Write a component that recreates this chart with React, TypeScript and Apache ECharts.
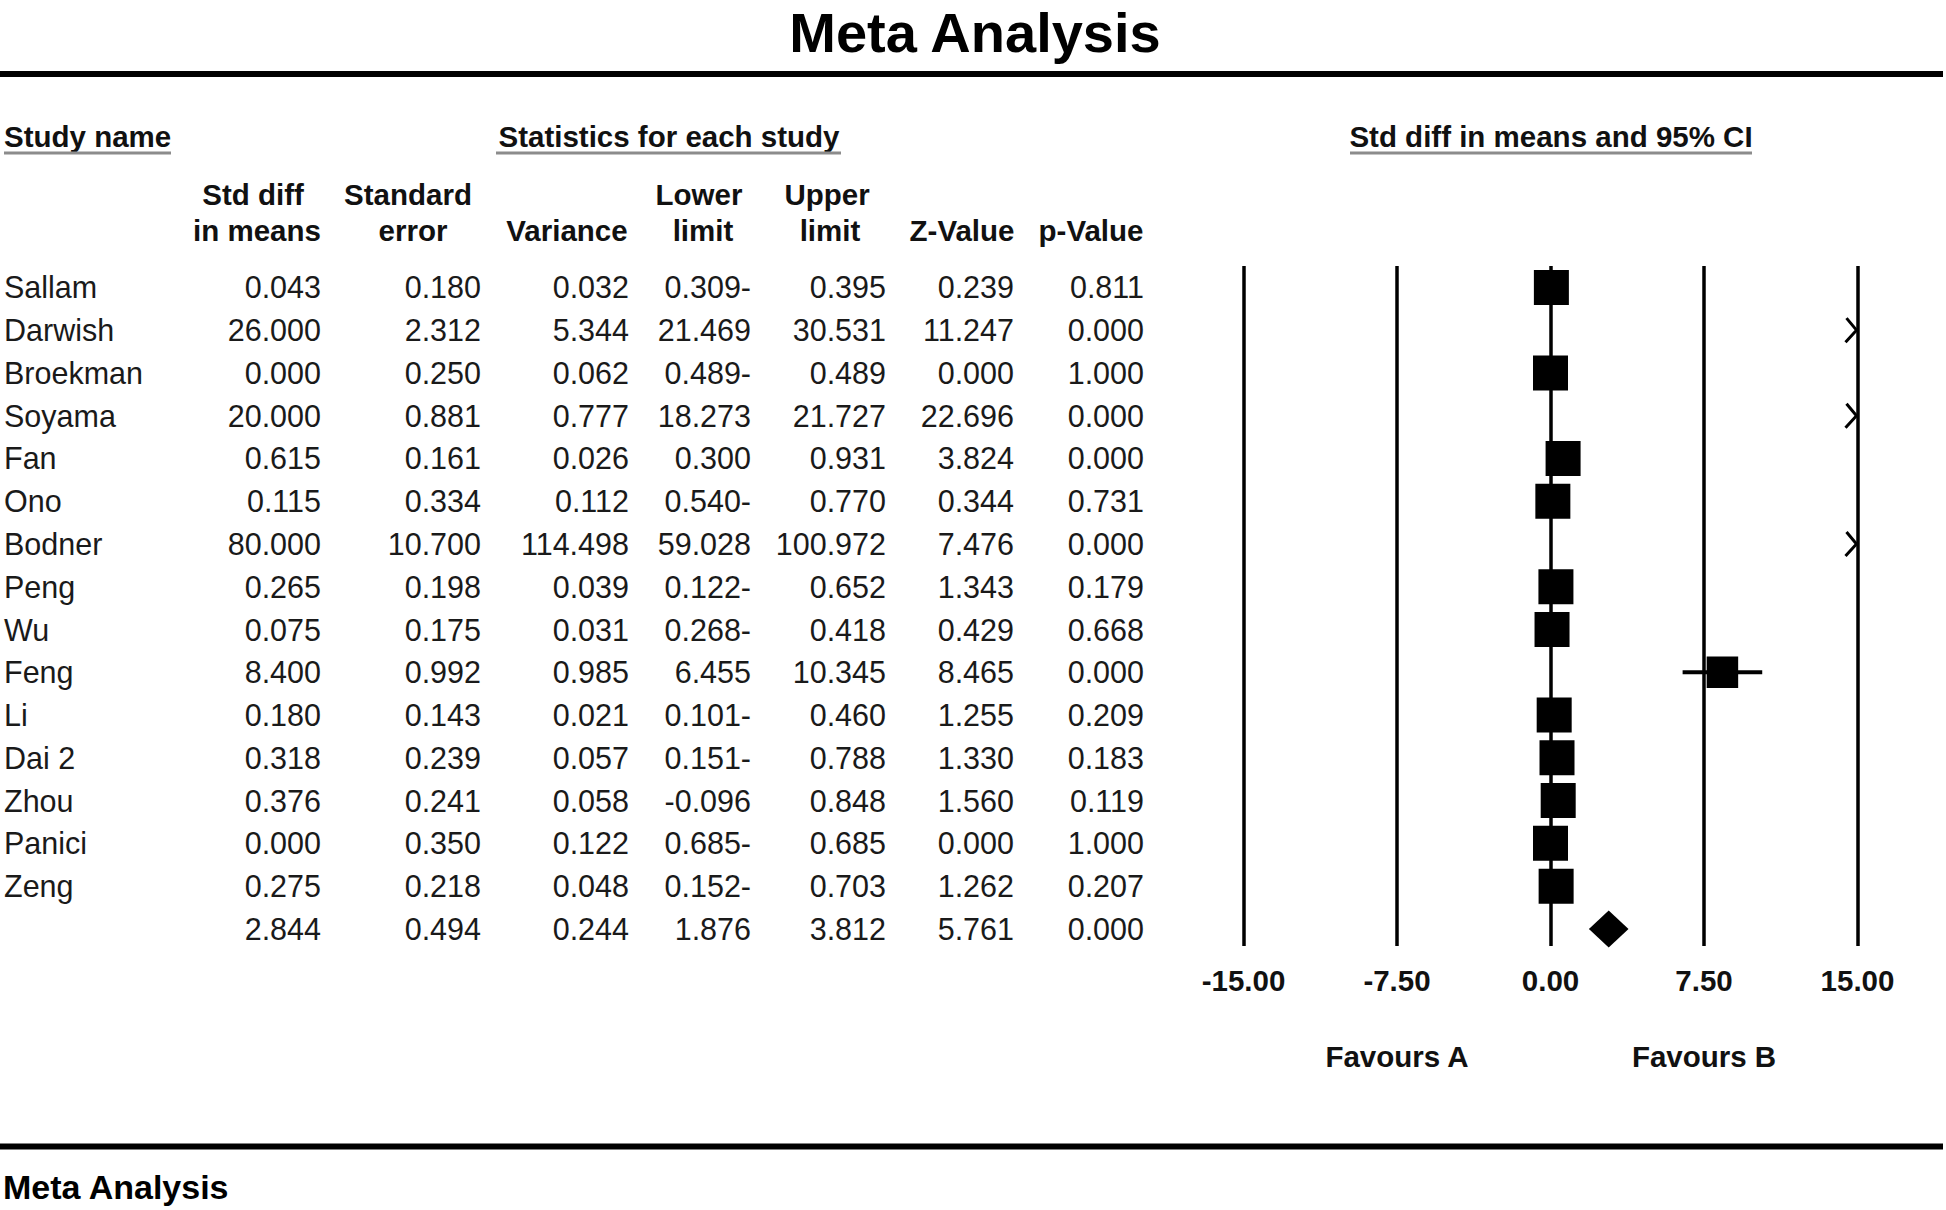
import React, { useEffect, useRef } from "react";
import * as echarts from "echarts";

// ---------- data ----------
const studyNames = ["Sallam", "Darwish", "Broekman", "Soyama", "Fan", "Ono", "Bodner", "Peng", "Wu", "Feng", "Li", "Dai 2", "Zhou", "Panici", "Zeng"];
const stdDiff = [0.043, 26.0, 0.0, 20.0, 0.615, 0.115, 80.0, 0.265, 0.075, 8.4, 0.18, 0.318, 0.376, 0.0, 0.275];
const stdErr = [0.18, 2.312, 0.25, 0.881, 0.161, 0.334, 10.7, 0.198, 0.175, 0.992, 0.143, 0.239, 0.241, 0.35, 0.218];
const variance = [0.032, 5.344, 0.062, 0.777, 0.026, 0.112, 114.498, 0.039, 0.031, 0.985, 0.021, 0.057, 0.058, 0.122, 0.048];
const lowerLimit = [-0.309, 21.469, -0.489, 18.273, 0.3, -0.54, 59.028, -0.122, -0.268, 6.455, -0.101, -0.151, -0.096, -0.685, -0.152];
const lowerLimitLabels = ["0.309-", "21.469", "0.489-", "18.273", "0.300", "0.540-", "59.028", "0.122-", "0.268-", "6.455", "0.101-", "0.151-", "-0.096", "0.685-", "0.152-"];
const upperLimit = [0.395, 30.531, 0.489, 21.727, 0.931, 0.77, 100.972, 0.652, 0.418, 10.345, 0.46, 0.788, 0.848, 0.685, 0.703];
const zValue = [0.239, 11.247, 0.0, 22.696, 3.824, 0.344, 7.476, 1.343, 0.429, 8.465, 1.255, 1.33, 1.56, 0.0, 1.262];
const pValue = [0.811, 0.0, 1.0, 0.0, 0.0, 0.731, 0.0, 0.179, 0.668, 0.0, 0.209, 0.183, 0.119, 1.0, 0.207];
// relative box size
const boxWeight = [1, 1, 1, 1, 1, 1, 1, 1, 1, 0.9, 1, 1, 1, 1, 1];

// pooled (summary) row
const summaryStdDiff = 2.844;
const summaryStdErr = 0.494;
const summaryVariance = 0.244;
const summaryLower = 1.876;
const summaryUpper = 3.812;
const summaryZ = 5.761;
const summaryP = 0.0;

const axisTicks = [-15, 15, 7.5]; // min, max, interval
const favourLabels = ["Favours A", "Favours B"];
const favourAt = [-7.5, 7.5];

const columnHeaders = [
  ["Std diff", "in means"],
  ["Standard", "error"],
  ["", "Variance"],
  ["Lower", "limit"],
  ["Upper", "limit"],
  ["", "Z-Value"],
  ["", "p-Value"],
];

// ---------- layout ----------
const W = 1946;
const H = 1210;
const FONT = '"Liberation Sans", Arial, Helvetica, sans-serif';
const ROW_TOP = 266;
const ROW_H = 680;
const FOREST_LEFT = 1243.5;
const FOREST_W = 614;
const NAME_X = 4;
const COL_RIGHT = [321, 481, 629, 751, 886, 1014, 1144];
const HEAD_CENTER1 = [253, 408, 567, 699, 827, 962, 1091];
const HEAD_CENTER2 = [257, 413, 567, 703, 830, 962, 1091];
const BOX = 35;

const f3 = (v: number) => v.toFixed(3);

function txt(text: string, x: number, y: number, size: number, weight: string, align: string, fill = "#111") {
  return {
    type: "text",
    x,
    y,
    silent: true,
    style: { text, fontSize: size, fontWeight: weight, fontFamily: FONT, fill, align, verticalAlign: "middle" },
  };
}

export default function App() {
  const ref = useRef<HTMLDivElement>(null);

  useEffect(() => {
    if (!ref.current) return;
    const chart = echarts.init(ref.current, undefined, { renderer: "svg" });

    const tableRows = studyNames.map((name, i) => ({
      name,
      cells: [f3(stdDiff[i]), f3(stdErr[i]), f3(variance[i]), lowerLimitLabels[i], f3(upperLimit[i]), f3(zValue[i]), f3(pValue[i])],
    }));
    tableRows.push({
      name: "",
      cells: [f3(summaryStdDiff), f3(summaryStdErr), f3(summaryVariance), f3(summaryLower), f3(summaryUpper), f3(summaryZ), f3(summaryP)],
    });

    const forestData = studyNames.map((_, i) => [stdDiff[i], lowerLimit[i], upperLimit[i], i, boxWeight[i]]);
    const summaryRow = studyNames.length;

    const graphic: any[] = [
      txt("Meta Analysis", 975, 32.5, 56, "bold", "center", "#000"),
      { type: "line", silent: true, shape: { x1: 0, y1: 74, x2: 1943, y2: 74 }, style: { stroke: "#000", lineWidth: 6 } },
      txt("Study name", 4, 136, 29.5, "bold", "left"),
      txt("Statistics for each study", 669, 136, 29.5, "bold", "center"),
      txt("Std diff in means and 95% CI", 1551, 136, 29.5, "bold", "center"),
      { type: "line", silent: true, shape: { x1: 4, y1: 153, x2: 171, y2: 153 }, style: { stroke: "#8c8c8c", lineWidth: 3 } },
      { type: "line", silent: true, shape: { x1: 496, y1: 153, x2: 841, y2: 153 }, style: { stroke: "#8c8c8c", lineWidth: 3 } },
      { type: "line", silent: true, shape: { x1: 1350, y1: 153, x2: 1752, y2: 153 }, style: { stroke: "#8c8c8c", lineWidth: 3 } },
      { type: "line", silent: true, shape: { x1: 0, y1: 1146.5, x2: 1943, y2: 1146.5 }, style: { stroke: "#000", lineWidth: 6 } },
      txt("Meta Analysis", 3, 1187, 34, "bold", "left", "#000"),
    ];
    columnHeaders.forEach((h, c) => {
      if (h[0]) graphic.push(txt(h[0], HEAD_CENTER1[c], 194, 29.5, "bold", "center"));
      if (h[1]) graphic.push(txt(h[1], HEAD_CENTER2[c], 230, 29.5, "bold", "center"));
    });

    const option: any = {
      animation: false,
      backgroundColor: "#ffffff",
      grid: [
        { left: 0, top: ROW_TOP, width: W, height: ROW_H },
        { left: FOREST_LEFT, top: ROW_TOP, width: FOREST_W, height: ROW_H },
      ],
      xAxis: [
        { gridIndex: 0, type: "value", min: 0, max: W, show: false },
        {
          gridIndex: 1,
          type: "value",
          min: axisTicks[0],
          max: axisTicks[1],
          interval: axisTicks[2],
          axisLine: { show: false },
          axisTick: { show: false },
          splitLine: { show: true, lineStyle: { color: "#000", width: 3.5 } },
          axisLabel: {
            formatter: (v: number) => v.toFixed(2),
            fontSize: 29.5,
            fontWeight: "bold",
            fontFamily: FONT,
            color: "#111",
            margin: 19,
          },
        },
      ],
      yAxis: [
        { gridIndex: 0, type: "value", min: -0.5, max: 15.4, inverse: true, show: false },
        { gridIndex: 1, type: "value", min: -0.5, max: 15.4, inverse: true, show: false },
      ],
      graphic,
      series: [
        {
          type: "custom",
          name: "table",
          xAxisIndex: 0,
          yAxisIndex: 0,
          encode: { x: 0, y: 1 },
          silent: true,
          data: tableRows.map((_, i) => [0, i]),
          renderItem: (params: any, api: any) => {
            const r = tableRows[params.dataIndex];
            const row = api.value(1);
            const y = api.coord([0, row])[1];
            const children: any[] = [];
            if (r.name) {
              children.push({
                type: "text",
                x: api.coord([NAME_X, row])[0],
                y,
                style: { text: r.name, fontSize: 30.5, fontFamily: FONT, fill: "#1a1a1a", align: "left", verticalAlign: "middle" },
              });
            }
            r.cells.forEach((cell, c) => {
              children.push({
                type: "text",
                x: api.coord([COL_RIGHT[c], row])[0],
                y,
                style: { text: cell, fontSize: 30.5, fontFamily: FONT, fill: "#1a1a1a", align: "right", verticalAlign: "middle" },
              });
            });
            return { type: "group", children };
          },
        },
        {
          type: "custom",
          name: "studies",
          xAxisIndex: 1,
          yAxisIndex: 1,
          encode: { x: 0, y: 3 },
          silent: true,
          clip: false,
          data: forestData,
          renderItem: (params: any, api: any) => {
            const mean = api.value(0);
            const lo = api.value(1);
            const hi = api.value(2);
            const row = api.value(3);
            const w = api.value(4);
            const xMin = axisTicks[0];
            const xMax = axisTicks[1];
            const yc = api.coord([0, row])[1];
            const children: any[] = [];
            const loC = Math.max(lo, xMin);
            const hiC = Math.min(hi, xMax);
            if (loC < hiC) {
              children.push({
                type: "line",
                shape: { x1: api.coord([loC, row])[0], y1: yc, x2: api.coord([hiC, row])[0], y2: yc },
                style: { stroke: "#000", lineWidth: 4 },
              });
            }
            if (hi > xMax) {
              const xe = api.coord([xMax, row])[0];
              children.push({
                type: "polyline",
                shape: { points: [[xe - 11, yc - 12], [xe - 1, yc], [xe - 12, yc + 12]] },
                style: { stroke: "#000", lineWidth: 3, fill: null },
              });
            }
            if (lo < xMin) {
              const xs = api.coord([xMin, row])[0];
              children.push({
                type: "polyline",
                shape: { points: [[xs + 11, yc - 12], [xs + 1, yc], [xs + 12, yc + 12]] },
                style: { stroke: "#000", lineWidth: 3, fill: null },
              });
            }
            if (mean >= xMin && mean <= xMax) {
              const s = BOX * w;
              const xc = api.coord([mean, row])[0];
              children.push({
                type: "rect",
                shape: { x: xc - s / 2, y: yc - s / 2, width: s, height: s },
                style: { fill: "#000" },
              });
            }
            return { type: "group", children };
          },
        },
        {
          type: "custom",
          name: "summary",
          xAxisIndex: 1,
          yAxisIndex: 1,
          encode: { x: 0, y: 3 },
          silent: true,
          clip: false,
          data: [[summaryStdDiff, summaryLower, summaryUpper, summaryRow]],
          renderItem: (params: any, api: any) => {
            const row = api.value(3);
            const [xm, yc] = api.coord([api.value(0), row]);
            const xl = api.coord([api.value(1), row])[0];
            const xr = api.coord([api.value(2), row])[0];
            const hh = 18.5;
            return {
              type: "polygon",
              shape: { points: [[xl, yc], [xm, yc - hh], [xr, yc], [xm, yc + hh]] },
              style: { fill: "#000" },
            };
          },
        },
        {
          type: "custom",
          name: "favours",
          xAxisIndex: 1,
          yAxisIndex: 1,
          encode: { x: 0 },
          silent: true,
          clip: false,
          data: favourAt.map((v, i) => [v, i]),
          renderItem: (params: any, api: any) => {
            const x = api.coord([api.value(0), 0])[0];
            return {
              type: "text",
              x,
              y: ROW_TOP + ROW_H + 110,
              style: {
                text: favourLabels[params.dataIndex],
                fontSize: 29.5,
                fontWeight: "bold",
                fontFamily: FONT,
                fill: "#111",
                align: "center",
                verticalAlign: "middle",
              },
            };
          },
        },
      ],
    };

    chart.setOption(option);
    return () => {
      chart.dispose();
    };
  }, []);

  return (
    <div
      ref={ref}
      style={{ position: "fixed", left: 0, top: 0, width: W, height: H, background: "#fff" }}
    />
  );
}
